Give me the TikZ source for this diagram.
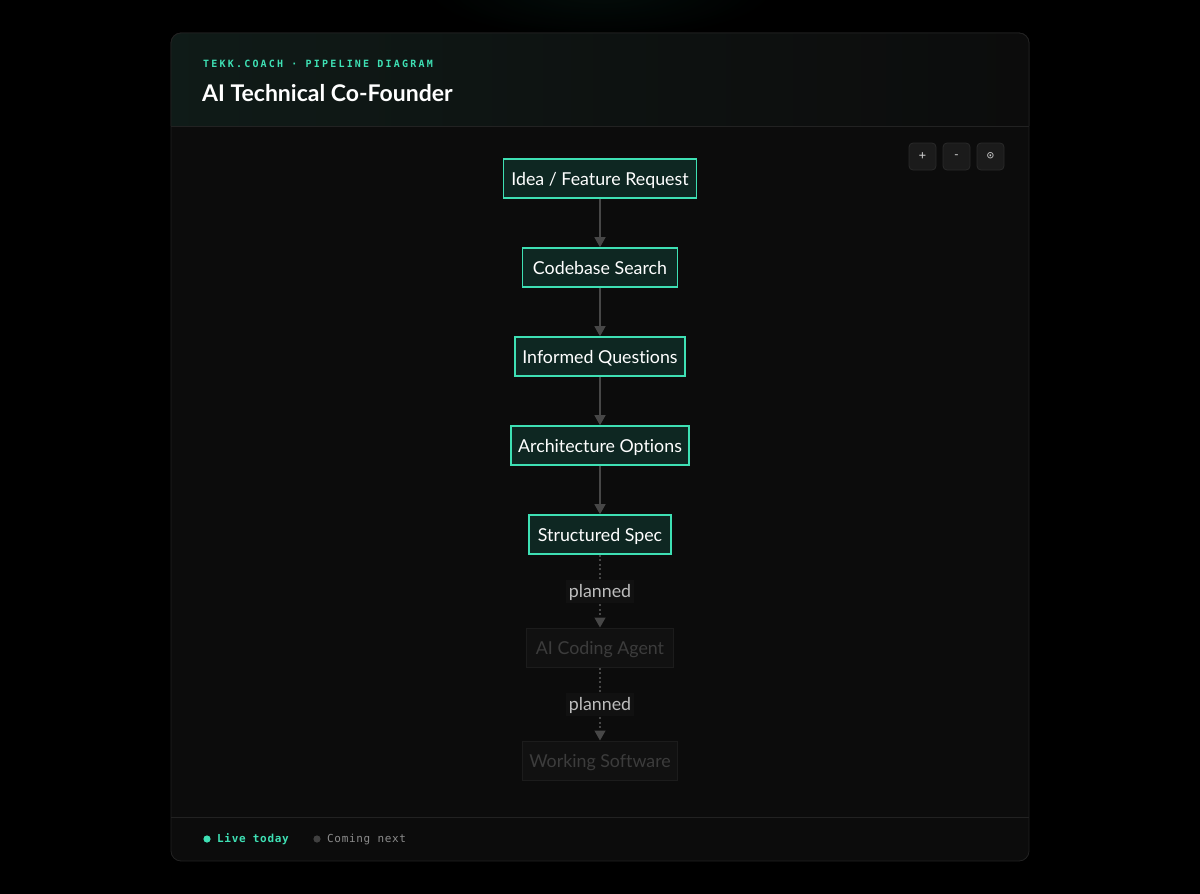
\documentclass[tikz,border=0pt]{standalone}
\usepackage{fontspec}
\setmainfont{Lato}[Ligatures=NoCommon]
\newfontfamily\headfont{Lato}[Ligatures=NoCommon]
\newfontfamily\monolab[LetterSpace=22]{DejaVu Sans Mono}
\newfontfamily\monofoot[LetterSpace=6]{DejaVu Sans Mono}
\usetikzlibrary{arrows.meta,shadings}
\definecolor{bgc}{HTML}{000000}
\definecolor{cardc}{HTML}{0C0C0C}
\definecolor{cardline}{HTML}{222222}
\definecolor{mint}{HTML}{3EE0B4}
\definecolor{livefill}{HTML}{0E2722}
\definecolor{arrowc}{HTML}{474747}
\definecolor{plannedfill}{HTML}{111111}
\definecolor{plannedline}{HTML}{1C1C1C}
\definecolor{plannedtext}{HTML}{3C3C3C}
\definecolor{labeltext}{HTML}{BDBDBD}
\definecolor{btnfill}{HTML}{1B1B1B}
\definecolor{btnline}{HTML}{2A2A2A}
\tikzset{
  boxfont/.style={font=\fontsize{17.8}{20}\selectfont, text height=16.5pt, text depth=2pt},
  livebox/.style={boxfont, draw=mint, line width=1.6pt, fill=livefill, text=white, inner sep=0pt, minimum height=39pt},
  plannedbox/.style={boxfont, draw=plannedline, line width=1pt, fill=plannedfill, text=plannedtext, inner sep=0pt, minimum height=39pt},
  flow/.style={draw=arrowc, line width=1.3pt, -{Triangle[width=11pt,length=10pt]}},
  plannedflow/.style={draw=arrowc, line width=1.3pt, dash pattern=on 2pt off 2.5pt, -{Triangle[width=11pt,length=10pt]}},
  plabel/.style={font=\fontsize{17.8}{20}\selectfont, text height=15pt, text depth=2pt, fill=plannedfill, text=labeltext, inner sep=3pt},
  btn/.style={draw=btnline, line width=0.8pt, fill=btnfill, rounded corners=4pt, minimum width=27pt, minimum height=27pt, inner sep=0pt, text=white!80!black, font=\fontsize{12}{12}\monofoot}
}
\begin{document}
\begin{tikzpicture}[x=1pt,y=-1pt]
\useasboundingbox (0,0) rectangle (1200,894);
\fill[bgc] (0,0) rectangle (1200,894);
% faint top glow
\shade[inner color=mint!10!black, outer color=black, opacity=0.6] (420,-60) rectangle (780,40);
% card
\fill[cardc, draw=cardline, line width=0.8pt, rounded corners=10pt] (171,33) rectangle (1029,861);
% header gradient
\begin{scope}
\clip[rounded corners=10pt] (171,33) rectangle (1029,200);
\shade[left color=mint!7!cardc, right color=cardc, middle color=cardc!97!mint] (171,33) rectangle (1029,126);
\end{scope}
\draw[cardline, line width=0.8pt, rounded corners=10pt] (171,126) -- (171,33) -- (1029,33) -- (1029,126);
\draw[cardline, line width=0.8pt] (171,126) -- (1029,126);
\draw[cardline, line width=0.8pt] (171,817) -- (1029,817);
% header text
\node[anchor=west, text=mint, inner sep=0pt, font=\fontsize{10}{12}\monolab\bfseries] (kicker) at (203,64) {TEKK.COACH · PIPELINE DIAGRAM};
\node[anchor=west, text=white, inner sep=0pt, font=\fontsize{23}{26}\headfont\bfseries] (title) at (202,93.5) {AI Technical Co-Founder};
% buttons
\node[btn] (zin) at (922.5,156.5) {+};
\node[btn] (zout) at (956.5,156.5) {\raisebox{0.5pt}{-}};
\node[btn] (zfit) at (990.5,156.5) {⊙};
% nodes
\node[livebox, minimum width=193pt] (n1) at (600,178.5) {Idea / Feature Request};
\node[livebox, minimum width=155pt] (n2) at (600,267.5) {Codebase Search};
\node[livebox, minimum width=170pt] (n3) at (600,356.5) {Informed Questions};
\node[livebox, minimum width=178pt] (n4) at (600,445.5) {Architecture Options};
\node[livebox, minimum width=142pt] (n5) at (600,534.5) {Structured Spec};
\node[plannedbox, minimum width=147pt] (n6) at (600,647.5) {AI Coding Agent};
\node[plannedbox, minimum width=155pt] (n7) at (600,760.5) {Working Software};
% edges
\draw[flow] (n1) -- (n2);
\draw[flow] (n2) -- (n3);
\draw[flow] (n3) -- (n4);
\draw[flow] (n4) -- (n5);
\draw[plannedflow] (n5) -- node[plabel] (l1) {planned} (n6);
\draw[plannedflow] (n6) -- node[plabel] (l2) {planned} (n7);
% footer legend
\fill[mint] (207,839) circle (3.6pt);
\node[anchor=west, text=mint, inner sep=0pt, font=\fontsize{11}{12}\monofoot\bfseries] (live) at (217,839) {Live today};
\fill[white!25!black] (317,839) circle (3.6pt);
\node[anchor=west, text=white!55!black, inner sep=0pt, font=\fontsize{11}{12}\monofoot] (next) at (327,839) {Coming next};
\end{tikzpicture}
\end{document}
